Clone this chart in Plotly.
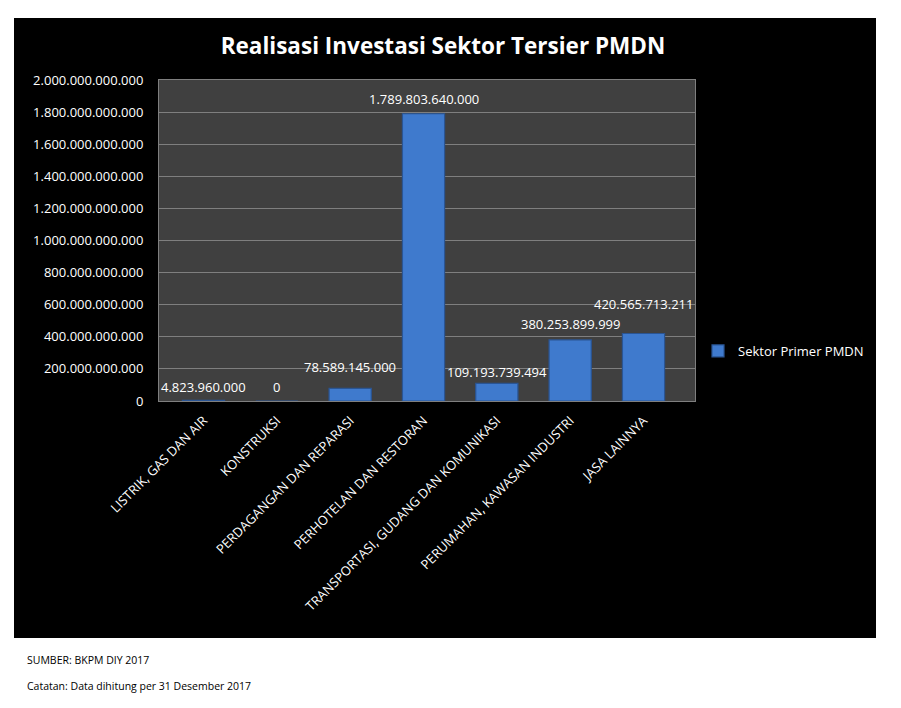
import plotly.graph_objects as go

categories = [
    "LISTRIK, GAS DAN AIR",
    "KONSTRUKSI",
    "PERDAGANGAN DAN REPARASI",
    "PERHOTELAN DAN RESTORAN",
    "TRANSPORTASI, GUDANG DAN KOMUNIKASI",
    "PERUMAHAN, KAWASAN INDUSTRI",
    "JASA LAINNYA",
]
values = [4823960000, 0, 78589145000, 1789803640000, 109193739494, 380253899999, 420565713211]
series_name = "Sektor Primer PMDN"
y_ticks = [0, 200e9, 400e9, 600e9, 800e9, 1000e9, 1200e9, 1400e9, 1600e9, 1800e9, 2000e9]

# label offsets above bar top (px), as placed in the reference
label_shift = [13, 14, 21, 15, 11, 16, 30]

W, H = 901, 708
L, R, T, B = 159, 695, 80, 401


def fmt(v):
    return f"{int(round(v)):,}".replace(",", ".")


def px(x):
    return (x - L) / (R - L)


def py(y):
    return (B - y) / (B - T)


FONT = "Open Sans"

fig = go.Figure()
fig.add_trace(go.Bar(
    x=categories, y=values, name=series_name,
    marker=dict(color="#3f7acd", line=dict(color="#2a5594", width=1.2)),
    showlegend=True,
))

annotations = []
for c, v, s in zip(categories, values, label_shift):
    annotations.append(dict(x=c, y=v, xref="x", yref="y", text=fmt(v), showarrow=False,
                            yanchor="middle", yshift=s,
                            font=dict(family=FONT, size=13, color="white")))
annotations.append(dict(x=px(25), y=py(660), xref="paper", yref="paper", text="SUMBER: BKPM DIY 2017",
                        showarrow=False, xanchor="left", yanchor="middle",
                        font=dict(family=FONT, size=10.5, color="black")))
annotations.append(dict(x=px(25), y=py(686), xref="paper", yref="paper",
                        text="Catatan: Data dihitung per 31 Desember 2017",
                        showarrow=False, xanchor="left", yanchor="middle",
                        font=dict(family=FONT, size=10.5, color="black")))

shapes = [
    dict(type="rect", xref="paper", yref="paper", x0=px(14), x1=px(876), y0=py(638), y1=py(18),
         fillcolor="black", line=dict(width=0), layer="below"),
    dict(type="rect", xref="x domain", yref="y domain", x0=0, x1=1, y0=0, y1=1,
         fillcolor="#404040", line=dict(width=0), layer="below"),
]

fig.update_layout(
    width=W, height=H,
    margin=dict(l=L, r=W - R, t=T, b=H - B, pad=0),
    paper_bgcolor="white", plot_bgcolor="#404040",
    separators=",.",
    title=dict(text="<b>Realisasi Investasi Sektor Tersier PMDN</b>", x=443 / W, xanchor="center",
               y=1 - 46 / H, yanchor="middle", font=dict(family=FONT, size=22.5, color="white")),
    bargap=0.425,
    font=dict(family=FONT, color="white"),
    legend=dict(x=px(698), y=py(351), xanchor="left", yanchor="middle", bgcolor="rgba(0,0,0,0)",
                font=dict(family=FONT, size=13, color="white")),
    annotations=annotations,
    shapes=shapes,
)
fig.update_yaxes(range=[0, 2000e9], tickvals=y_ticks, ticktext=[fmt(v) for v in y_ticks],
                 showgrid=True, gridcolor="#7f7f7f", gridwidth=1, zeroline=False,
                 showline=True, linecolor="#7f7f7f", mirror=True,
                 ticks="", ticklabelstandoff=12,
                 tickfont=dict(family=FONT, size=13, color="white"))
fig.update_xaxes(tickangle=-45, showline=True, linecolor="#7f7f7f", mirror=True, ticks="",
                 ticklabelstandoff=6,
                 tickfont=dict(family=FONT, size=13, color="white"))

fig.write_html("out.html")
